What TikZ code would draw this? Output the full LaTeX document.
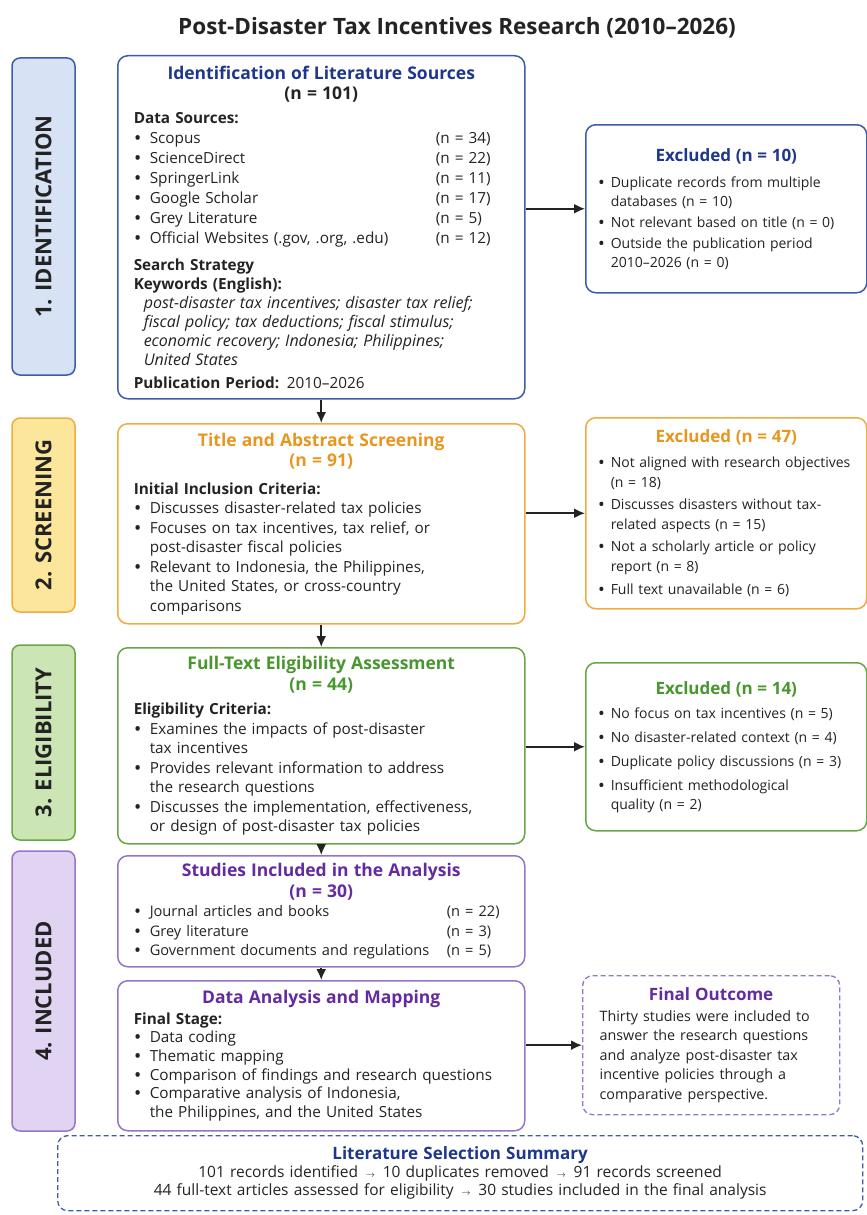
\documentclass[tikz,border=0pt]{standalone}
\usepackage{fontspec}
\setmainfont{Open Sans}
\usetikzlibrary{arrows.meta}

\definecolor{inkC}{RGB}{35,35,35}
\definecolor{blueT}{RGB}{30,55,140}
\definecolor{blueB}{RGB}{60,92,172}
\definecolor{blueF}{RGB}{216,226,245}
\definecolor{orangeT}{RGB}{232,150,32}
\definecolor{orangeB}{RGB}{240,172,64}
\definecolor{yellowF}{RGB}{252,230,155}
\definecolor{greenT}{RGB}{72,150,46}
\definecolor{greenB}{RGB}{104,166,72}
\definecolor{greenF}{RGB}{204,229,180}
\definecolor{purpleT}{RGB}{100,42,160}
\definecolor{purpleB}{RGB}{150,116,200}
\definecolor{purpleF}{RGB}{224,212,242}

% bullet line with hanging indent
\newlength{\bulw}\setlength{\bulw}{16pt}
\newcommand{\bitem}[1]{\par\noindent\hangindent=\bulw\hangafter=1\makebox[\bulw][l]{\hspace{1pt}\textbf{\textbullet}}#1\par}
% centred bold heading line
\newcommand{\boxhead}[3][17.5]{{\centering\fontsize{#1}{20.5}\selectfont\bfseries\color{#2}#3\par}}
\newcommand{\sarr}{\,{\small$\rightarrow$}\,}

\begin{document}
\begin{tikzpicture}[x=1pt, y=-1pt,
    font=\fontsize{15.3}{19.5}\selectfont\color{inkC},
    stagebox/.style={draw=#1, line width=1.5pt, rounded corners=8pt, rotate=90,
        minimum height=63pt, font=\fontsize{22}{24}\selectfont\bfseries\color{inkC}},
    mainbox/.style={draw=#1, line width=1.5pt, rounded corners=10pt, fill=white,
        text width=375pt, inner xsep=16pt, inner ysep=0pt, align=left, anchor=north west},
    exclbox/.style={draw=#1, line width=1.5pt, rounded corners=10pt, fill=white,
        text width=257pt, inner xsep=12pt, inner ysep=0pt, align=left, anchor=north west,
        font=\fontsize{14}{19}\selectfont\color{inkC}},
    dashbox/.style={draw=#1, line width=1.3pt, dash pattern=on 5pt off 3pt, rounded corners=10pt,
        inner ysep=0pt, anchor=north west},
    arrow/.style={-{Latex[length=11pt,width=10pt]}, line width=1.8pt, draw=inkC}]
\useasboundingbox (0,0) rectangle (867,1215);

\node[font=\fontsize{22.5}{26}\selectfont\bfseries\color{inkC}] (title) at (457,28)
    {Post-Disaster Tax Incentives Research (2010\textendash 2026)};

% stages
\node[stagebox=blueB, fill=blueF, minimum width=317pt] (st1) at (43.5,216.5) {1. IDENTIFICATION};
\node[stagebox=orangeB, fill=yellowF, minimum width=194pt] (st2) at (43.5,515) {2. SCREENING};
\node[stagebox=greenB, fill=greenF, minimum width=195pt] (st3) at (43.5,742.5) {3. ELIGIBILITY};
\node[stagebox=purpleB, fill=purpleF, minimum width=280pt] (st4) at (43.5,991) {4. INCLUDED};

% main column
\node[mainbox=blueB, minimum height=343pt] (ident) at (117,55) {%
    \boxhead{blueT}{Identification of Literature Sources}
    \boxhead{inkC}{(n = 101)}
    \vspace{4pt}
    \textbf{Data Sources:}\fontsize{15.3}{20}\selectfont
    \bitem{\makebox[286pt][l]{Scopus}(n = 34)}
    \bitem{\makebox[286pt][l]{ScienceDirect}(n = 22)}
    \bitem{\makebox[286pt][l]{SpringerLink}(n = 11)}
    \bitem{\makebox[286pt][l]{Google Scholar}(n = 17)}
    \bitem{\makebox[286pt][l]{Grey Literature}(n = 5)}
    \bitem{\makebox[286pt][l]{Official Websites (.gov, .org, .edu)}(n = 12)}
    \vspace{8pt}\fontsize{15.3}{19}\selectfont
    \textbf{Search Strategy}\par
    \textbf{Keywords (English):}\par
    {\leftskip=10pt\fontsize{16}{19}\selectfont\itshape post-disaster tax incentives; disaster tax relief;\newline
    fiscal policy; tax deductions; fiscal stimulus;\newline
    economic recovery; Indonesia; Philippines;\newline
    United States\par}
    \vspace{3pt}
    \textbf{Publication Period:} 2010\textendash 2026};

\node[mainbox=orangeB, minimum height=200pt] (screen) at (117,423) {%
    \boxhead{orangeT}{Title and Abstract Screening}
    \boxhead{orangeT}{(n = 91)}
    \vspace{8pt}
    \textbf{Initial Inclusion Criteria:}
    \bitem{Discusses disaster-related tax policies}
    \bitem{Focuses on tax incentives, tax relief, or\newline post-disaster fiscal policies}
    \bitem{Relevant to Indonesia, the Philippines,\newline the United States, or cross-country\newline comparisons}};

\node[mainbox=greenB, minimum height=196pt] (elig) at (117,647) {%
    \boxhead{greenT}{Full-Text Eligibility Assessment}
    \boxhead{greenT}{(n = 44)}
    \vspace{5pt}
    \textbf{Eligibility Criteria:}
    \bitem{Examines the impacts of post-disaster\newline tax incentives}
    \bitem{Provides relevant information to address\newline the research questions}
    \bitem{Discusses the implementation, effectiveness,\newline or design of post-disaster tax policies}};

\node[mainbox=purpleB, minimum height=111pt] (incl) at (117,855) {%
    \boxhead{purpleT}{Studies Included in the Analysis}
    \boxhead{purpleT}{(n = 30)}
    \fontsize{14.6}{19.5}\selectfont
    \bitem{\makebox[297pt][l]{Journal articles and books}(n = 22)}
    \bitem{\makebox[297pt][l]{Grey literature}(n = 3)}
    \bitem{\makebox[297pt][l]{Government documents and regulations}(n = 5)}};

\node[mainbox=purpleB, minimum height=150pt] (analysis) at (117,980) {%
    \fontsize{15.3}{18.6}\selectfont
    \boxhead{purpleT}{Data Analysis and Mapping}
    \vspace{2pt}
    \textbf{Final Stage:}
    \bitem{Data coding}
    \bitem{Thematic mapping}
    \bitem{Comparison of findings and research questions}
    \bitem{Comparative analysis of Indonesia,\newline the Philippines, and the United States}};

% exclusion column
\node[exclbox=blueB, minimum height=168pt] (excl1) at (585,124) {%
    \setlength{\bulw}{13pt}%
    \boxhead[17]{blueT}{Excluded (n = 10)}
    \vspace{7pt}
    \bitem{Duplicate records from multiple\newline databases (n = 10)}
    \vspace{2pt}
    \bitem{Not relevant based on title (n = 0)}
    \vspace{2pt}
    \bitem{Outside the publication period\newline 2010\textendash 2026 (n = 0)}};

\node[exclbox=orangeB, minimum height=191pt] (excl2) at (585,417) {%
    \setlength{\bulw}{13pt}\fontsize{14}{20}\selectfont
    \boxhead[17]{orangeT}{Excluded (n = 47)}
    \vspace{5pt}
    \bitem{Not aligned with research objectives\newline (n = 18)}
    \vspace{2pt}
    \bitem{Discusses disasters without tax-\newline related aspects (n = 15)}
    \vspace{2pt}
    \bitem{Not a scholarly article or policy\newline report (n = 8)}
    \vspace{3pt}
    \bitem{Full text unavailable (n = 6)}};

\node[exclbox=greenB, minimum height=168pt] (excl3) at (585,662) {%
    \setlength{\bulw}{13pt}%
    \boxhead[17]{greenT}{Excluded (n = 14)}
    \vspace{5pt}
    \bitem{No focus on tax incentives (n = 5)}
    \vspace{5pt}
    \bitem{No disaster-related context (n = 4)}
    \vspace{5pt}
    \bitem{Duplicate policy discussions (n = 3)}
    \vspace{5pt}
    \bitem{Insufficient methodological\newline quality (n = 2)}};

\node[dashbox=purpleB, minimum width=257pt, minimum height=139pt, text width=223pt,
    inner xsep=17pt, align=left, fill=white] (outcome) at (582,975) {%
    \fontsize{14.3}{18}\selectfont
    \boxhead[17]{purpleT}{Final Outcome}
    \vspace{1pt}
    Thirty studies were included to\newline
    answer the research questions\newline
    and analyze post-disaster tax\newline
    incentive policies through a\newline
    comparative perspective.};

\node[dashbox=blueB, minimum width=805pt, minimum height=75pt, text width=780pt,
    align=center, font=\fontsize{15.5}{18}\selectfont\color{inkC}] (summary) at (57,1135) {%
    {\fontsize{17}{18}\selectfont\bfseries\color{blueT}Literature Selection Summary}\\
    101 records identified \sarr{} 10 duplicates removed \sarr{} 91 records screened\\
    44 full-text articles assessed for eligibility \sarr{} 30 studies included in the final analysis};

% connectors
\draw[arrow] (ident) -- (screen);
\draw[arrow] (screen) -- (elig);
\draw[arrow] (elig) -- (incl);
\draw[arrow] (incl) -- (analysis);
\draw[arrow] (excl1.west -| ident.east) -- (excl1.west);
\draw[arrow] (excl2.west -| screen.east) -- (excl2.west);
\draw[arrow] (excl3.west -| elig.east) -- (excl3.west);
\draw[arrow] (outcome.west -| analysis.east) -- (outcome.west);
\end{tikzpicture}
\end{document}
